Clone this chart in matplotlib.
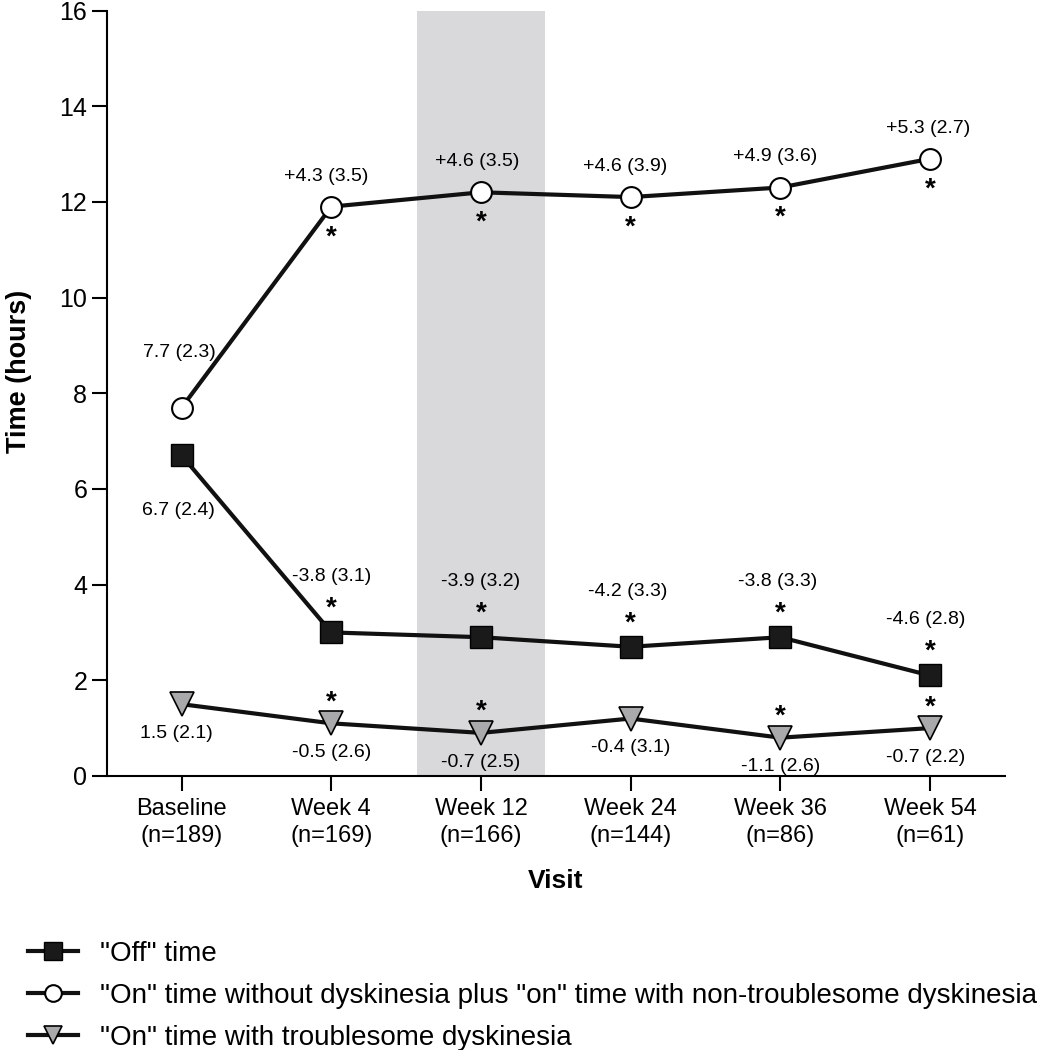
import matplotlib
matplotlib.use("Agg")
import matplotlib.pyplot as plt

plt.rcParams['font.family'] = ['Liberation Sans', 'DejaVu Sans']

# data
visits = ['Baseline\n(n=189)', 'Week 4\n(n=169)', 'Week 12\n(n=166)',
          'Week 24\n(n=144)', 'Week 36\n(n=86)', 'Week 54\n(n=61)']
off_time = [6.7, 3.0, 2.9, 2.7, 2.9, 2.1]
on_good = [7.7, 11.9, 12.2, 12.1, 12.3, 12.9]
on_trouble = [1.5, 1.1, 0.9, 1.2, 0.8, 1.0]

off_lbl = ['6.7 (2.4)', '-3.8 (3.1)', '-3.9 (3.2)', '-4.2 (3.3)', '-3.8 (3.3)', '-4.6 (2.8)']
on_lbl = ['7.7 (2.3)', '+4.3 (3.5)', '+4.6 (3.5)', '+4.6 (3.9)', '+4.9 (3.6)', '+5.3 (2.7)']
tr_lbl = ['1.5 (2.1)', '-0.5 (2.6)', '-0.7 (2.5)', '-0.4 (3.1)', '-1.1 (2.6)', '-0.7 (2.2)']

off_star = [False, True, True, True, True, True]
on_star = [False, True, True, True, True, True]
tr_star = [False, True, True, False, True, True]

x = list(range(len(visits)))

fig = plt.figure(figsize=(10.37, 10.5), dpi=100)
ax = fig.add_axes([0.103, 0.261, 0.866, 0.729])

# highlighted visit (week 12)
ax.axvspan(1.57, 2.43, color='#d9d9db', zorder=0, lw=0)

l_off, = ax.plot(x, off_time, color='#111111', lw=3, marker='s', ms=16,
                 mfc='#1a1a1a', mec='#000000', mew=1, zorder=3)
l_on, = ax.plot(x, on_good, color='#111111', lw=3, marker='o', ms=15,
                mfc='white', mec='#000000', mew=1.5, zorder=3)
l_tr, = ax.plot(x, on_trouble, color='#111111', lw=3, marker='v', ms=17,
                mfc='#a9a9ab', mec='#000000', mew=1.2, zorder=3)

fs = 14
sfs = 20
# "off" labels: value above, star between
off_dx = [-2, 0, 0, -2, -2, -3]
for i in x:
    ax.annotate(off_lbl[i], (i, off_time[i]), textcoords='offset points',
                xytext=(off_dx[i], -40) if i == 0 else (off_dx[i], 40),
                ha='center', va='center', fontsize=fs)
    if off_star[i]:
        ax.annotate('*', (i, off_time[i]), textcoords='offset points',
                    xytext=(0, 17), ha='center', va='center', fontsize=sfs, fontweight='bold')

on_dx = [-1.5, -4, -3, -4, -4, -1.5]
for i in x:
    ax.annotate(on_lbl[i], (i, on_good[i]), textcoords='offset points',
                xytext=(on_dx[i], 40 if i == 0 else 22), ha='center', va='center', fontsize=fs)
    if on_star[i]:
        ax.annotate('*', (i, on_good[i]), textcoords='offset points',
                    xytext=(0, -22), ha='center', va='center', fontsize=sfs, fontweight='bold')

tr_dx = [-4, 0, 0, 0, 0, -3]
for i in x:
    ax.annotate(tr_lbl[i], (i, on_trouble[i]), textcoords='offset points',
                xytext=(tr_dx[i], -21), ha='center', va='center', fontsize=fs)
    if tr_star[i]:
        ax.annotate('*', (i, on_trouble[i]), textcoords='offset points',
                    xytext=(0, 15), ha='center', va='center', fontsize=sfs, fontweight='bold')

ax.set_xlim(-0.5, 5.5)
ax.set_ylim(0, 16)
ax.set_yticks(range(0, 17, 2))
ax.set_xticks(x)
ax.set_xticklabels(visits, fontsize=17, linespacing=1.3)
ax.tick_params(axis='y', labelsize=18, length=11, width=1.5, pad=3)
ax.tick_params(axis='x', length=11, width=1.5, pad=5)
for s in ['top', 'right']:
    ax.spines[s].set_visible(False)
for s in ['left', 'bottom']:
    ax.spines[s].set_linewidth(1.5)

ax.set_ylabel('Time (hours)', fontsize=19.5, fontweight='bold')
ax.yaxis.set_label_coords(-0.083, 0.529)
ax.set_xlabel('Visit', fontsize=19, fontweight='bold', labelpad=16)

fig.legend([l_off, l_on, l_tr],
           ['"Off" time',
            '"On" time without dyskinesia plus "on" time with non-troublesome dyskinesia',
            '"On" time with troublesome dyskinesia'],
           loc='upper left', bbox_to_anchor=(0.027, 0.104), frameon=False,
           fontsize=20, handlelength=1.8, handletextpad=0.8, labelspacing=0.58,
           markerscale=0.8, borderpad=0, borderaxespad=0)

fig.savefig('out.png', dpi=100)
